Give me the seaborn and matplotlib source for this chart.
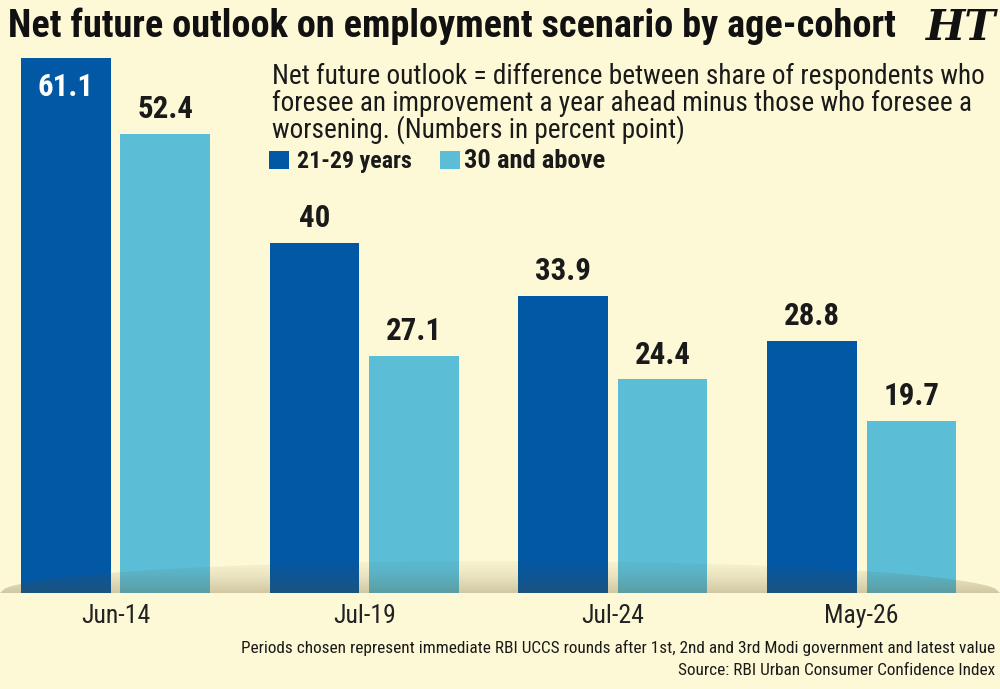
import numpy as np
import pandas as pd
import matplotlib
matplotlib.use("Agg")
import matplotlib.pyplot as plt
import seaborn as sns
from matplotlib import font_manager
from matplotlib.patches import Rectangle, Polygon

# ---------------- data ----------------
periods = ["Jun-14", "Jul-19", "Jul-24", "May-26"]
young = [61.1, 40, 33.9, 28.8]
older = [52.4, 27.1, 24.4, 19.7]
series_names = ["21-29 years", "30 and above"]

title = "Net future outlook on employment scenario by age-cohort"
note_lines = [
    "Net future outlook = difference between share of respondents who",
    "foresee an improvement a year ahead minus those who foresee a",
    "worsening. (Numbers in percent point)",
]
footnotes = [
    "Periods chosen represent immediate RBI UCCS rounds after 1st, 2nd and 3rd Modi government and latest value",
    "Source: RBI Urban Consumer Confidence Index",
]

# ---------------- style ----------------
BG = "#FDF8D6"
DARK = "#0358A6"
LIGHT = "#5BBDD6"
TEXT = "#1a1a1a"

sns.set_theme(style="white")

# choose the narrowest suitable installed font
fonts = [(f.name, str(f.stretch)) for f in font_manager.fontManager.ttflist]
names = {n for n, _ in fonts}
family, stretch = "DejaVu Sans", "normal"
cands = [("Liberation Sans Narrow", "normal"), ("Roboto Condensed", "normal"),
         ("Noto Sans Condensed", "normal"), ("Open Sans Condensed", "normal")]
chosen = False
for n, s in cands:
    if n in names:
        family, stretch, chosen = n, s, True
        break
if not chosen:
    for n in ["DejaVu Sans", "Noto Sans", "Roboto", "Open Sans"]:
        if any(fn == n and fs in ("condensed", "semi-condensed", "75", "87.5") for fn, fs in fonts):
            family, stretch, chosen = n, "condensed", True
            break
if not chosen:
    for n in ["Roboto", "Lato", "Noto Sans"]:
        if n in names:
            family = n
            break
plt.rcParams["font.family"] = [family, "DejaVu Sans"]
plt.rcParams["font.stretch"] = stretch

df = pd.DataFrame({
    "period": periods * 2,
    "value": young + older,
    "cohort": [series_names[0]] * len(periods) + [series_names[1]] * len(periods),
})

W, H = 1000, 689
fig = plt.figure(figsize=(W / 100, H / 100), dpi=100, facecolor=BG)
renderer = fig.canvas.get_renderer()


def fx(px):
    return px / W


def fy(py):
    return 1 - py / H


def fit(t, target_w):
    w = t.get_window_extent(renderer).width
    if w > 0:
        t.set_fontsize(t.get_fontsize() * target_w / w)
    return t


base_px = 593
top_px = 40
px_per_unit = 535 / 61.1

ax = fig.add_axes([0, fy(base_px), 1, (base_px - top_px) / H])
ax.set_facecolor("none")
sns.barplot(data=df, x="period", y="value", hue="cohort", order=periods,
            hue_order=series_names, palette=[DARK, LIGHT], width=0.8, gap=0.1,
            saturation=1, ax=ax, legend=False, errorbar=None, linewidth=0)

ax.set_ylim(0, (base_px - top_px) / px_per_unit)
ax.set_xlim((0 - 115.5) / 248.7, (W - 115.5) / 248.7)
ax.set_xlabel("")
ax.set_ylabel("")
ax.set_yticks([])
ax.tick_params(axis="x", length=0, pad=8, labelsize=17, labelcolor="#222222")
for s in ax.spines.values():
    s.set_visible(False)

# scale tick labels to reference width ("Jun-14" ~ 69 px)
fig.canvas.draw()
tl = ax.get_xticklabels()[0]
w = tl.get_window_extent(renderer).width
tick_size = 17 * 69 / w if w > 0 else 17
ax.tick_params(axis="x", labelsize=tick_size, pad=8 * (17 / tick_size) ** 0.5)

# value labels
probe = fig.text(0, 0, "52.4", fontsize=23, fontweight="bold")
fit(probe, 56)
val_size = probe.get_fontsize()
probe.remove()
for cont in ax.containers:
    labels = [f"{v:g}" for v in cont.datavalues]
    texts = ax.bar_label(cont, labels=labels, padding=7, fontsize=val_size,
                         fontweight="bold", color=TEXT)
    for t, v in zip(texts, cont.datavalues):
        if v > 60:
            t.set_color("white")
            t.set_va("top")
            t.xyann = (0, -10)

# base shadow overlay
sh_h = 32
ax2 = fig.add_axes([0, fy(base_px), 1, sh_h / H])
ax2.set_xlim(0, 1)
ax2.set_ylim(0, 1)
ax2.axis("off")
ax2.patch.set_alpha(0)
grad = np.zeros((100, 2, 4))
ys = np.linspace(1, 0, 100)  # image rows top->bottom
grad[:, :, 0] = 0.36
grad[:, :, 1] = 0.29
grad[:, :, 2] = 0.10
grad[:, :, 3] = (0.04 + 0.24 * (1 - ys) ** 1.5)[:, None]
im = ax2.imshow(grad, extent=[0, 1, 0, 1], aspect="auto", interpolation="bilinear")
xs = np.linspace(0, 1, 200)
yy = np.sqrt(np.clip(1 - ((xs - 0.5) / 0.5) ** 2, 0, 1))
poly = Polygon(np.column_stack([np.r_[xs, 1, 0], np.r_[yy, 0, 0]]),
               closed=True, transform=ax2.transData, facecolor="none", edgecolor="none")
ax2.add_patch(poly)
im.set_clip_path(poly)

# title and logo
t = fig.text(fx(8), fy(37), title, fontsize=25, fontweight="bold", color="#111111", va="baseline")
fit(t, 887)
fig.text(fx(996), fy(40), "HT", fontsize=30, fontweight="bold", fontstyle="italic",
         family=["DejaVu Serif"], color="#111111", ha="right", va="baseline")

# explanatory note
probe = fig.text(0, 0, note_lines[0], fontsize=18)
fit(probe, 713)
note_size = probe.get_fontsize()
probe.remove()
for i, line in enumerate(note_lines):
    fig.text(fx(272), fy(84 + 27 * i), line, fontsize=note_size, color=TEXT, va="baseline")

# legend
leg_items = [(269, DARK, series_names[0], 297, 115), (440, LIGHT, series_names[1], 464, 141)]
for sx, col, lab, tx, tw in leg_items:
    fig.patches.append(Rectangle((fx(sx), fy(169)), 20 / W, 18 / H,
                                 transform=fig.transFigure, facecolor=col, edgecolor="none"))
    lt = fig.text(fx(tx), fy(168), lab, fontsize=15, fontweight="bold", color=TEXT, va="baseline")
    fit(lt, tw)

# footnotes
f1 = fig.text(fx(995), fy(653), footnotes[0], fontsize=13, color=TEXT, ha="right", va="baseline")
fit(f1, 752)
fig.text(fx(995), fy(675), footnotes[1], fontsize=f1.get_fontsize(), color=TEXT,
         ha="right", va="baseline")

fig.savefig("out.png", dpi=100, facecolor=BG)
